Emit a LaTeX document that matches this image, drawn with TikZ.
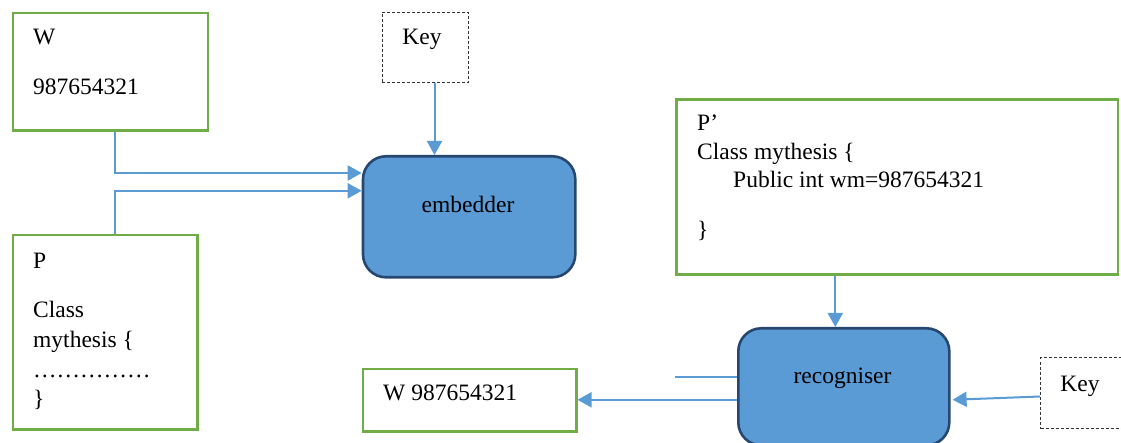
\documentclass[tikz,border=0pt]{standalone}
\usepackage{fontspec}
\setmainfont{Liberation Serif}
\usetikzlibrary{arrows.meta}

\definecolor{boxgreen}{RGB}{112,173,71}
\definecolor{linkblue}{RGB}{91,155,213}
\definecolor{procfill}{RGB}{91,155,213}
\definecolor{procedge}{RGB}{38,72,112}
\definecolor{keyedge}{RGB}{50,50,50}

\begin{document}
\begin{tikzpicture}[x=1pt, y=-1pt,
  font=\fontsize{23.5}{28}\selectfont,
  databox/.style={draw=boxgreen, line width=2.5pt, fill=white,
    inner sep=0pt, anchor=north west},
  keybox/.style={draw=keyedge, line width=1pt, dash pattern=on 3pt off 2pt,
    fill=white, inner sep=0pt, anchor=north west},
  procbox/.style={draw=procedge, fill=procfill, line width=2.6pt,
    rounded corners=23pt, inner sep=0pt, anchor=north west},
  txt/.style={inner sep=0pt, anchor=base west, text=black},
  ctxt/.style={inner sep=0pt, anchor=base, text=black},
  link/.style={draw=linkblue, line width=2pt,
    -{Triangle[length=14pt, width=15pt]}},
  plainlink/.style={draw=linkblue, line width=2pt}]

\useasboundingbox (0,0) rectangle (1121,443);
\clip (0,0) rectangle (1121,443);

% input watermark
\node[databox, minimum width=195pt, minimum height=117.6pt] (wbox) at (11.7,11.7) {};
\node[txt] (wname) at (33,45) {W};
\node[txt] (wval) at (33,95) {987654321};

% original program
\node[databox, minimum width=184.3pt, minimum height=194.3pt] (pbox) at (11.7,234) {};
\node[txt] (pname) at (33,269) {P};
\node[txt] (pl1) at (33,318) {Class};
\node[txt] (pl2) at (33,348) {mythesis \{};
\node[txt] (pl3) at (33,377) {……………};
\node[txt] (pl4) at (33,406) {\}};

% embedding key
\node[keybox, minimum width=86.6pt, minimum height=70pt] (keya) at (381.7,11.7) {};
\node[ctxt] (keyatxt) at (422,45) {Key};

% embedder
\node[procbox, minimum width=212.3pt, minimum height=121pt] (emb) at (361.7,155) {};
\node[ctxt] (embtxt) at (468,213) {embedder};

% watermarked program
\node[databox, minimum width=441.7pt, minimum height=175pt] (pprime) at (675,98.3) {};
\node[txt] (ppname) at (697,131) {P’};
\node[txt] (ppl1) at (697,160) {Class mythesis \{};
\node[txt] (ppl2) at (733,188) {Public int wm=987654321};
\node[txt] (ppl3) at (697,238) {\}};

% recogniser
\node[procbox, minimum width=211pt, minimum height=117pt] (rec) at (737,327) {};
\node[ctxt] (rectxt) at (842.5,383) {recogniser};

% recognition key
\node[keybox, minimum width=100pt, minimum height=71pt] (keyb) at (1040,357) {};
\node[ctxt] (keybtxt) at (1080,391) {Key};

% extracted watermark
\node[databox, minimum width=213.3pt, minimum height=62.3pt] (wres) at (361.7,367.7) {};
\node[txt] (wrestxt) at (383,400) {W 987654321};

% connectors into the embedder
\draw[link] ([xshift=4.8pt]wbox.south) |- ([yshift=43.8pt]emb.west);
\draw[link] ([xshift=10pt]pbox.north) |- ([yshift=26pt]emb.west);
\draw[link] ([xshift=9pt]keya.south) -- ([xshift=9pt]keya.south |- emb.north);

% connectors around the recogniser
\draw[link] ([xshift=-8.5pt]rec.north |- pprime.south) -- ([xshift=-8.5pt]rec.north);
\draw[link] ([yshift=-3.5pt]keyb.west) -- ([yshift=-13pt,xshift=2pt]rec.east);
\draw[link] ([yshift=-13pt]rec.west) -- ([yshift=-13pt]rec.west -| wres.east);
\coordinate (stub) at (675,377);
\draw[plainlink] (stub) -- (stub -| rec.west);

\end{tikzpicture}
\end{document}
